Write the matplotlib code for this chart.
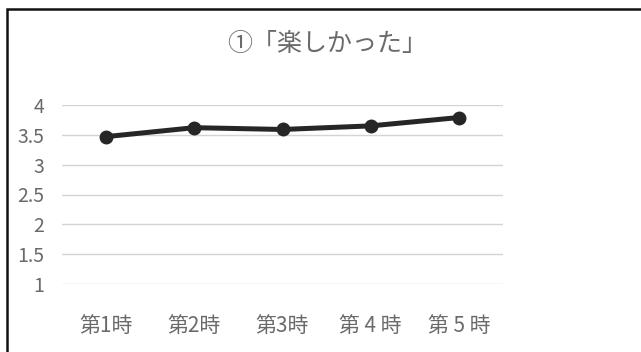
import matplotlib
matplotlib.use("Agg")
import matplotlib.pyplot as plt
from matplotlib.lines import Line2D

plt.rcParams['font.family'] = ['Noto Sans CJK JP', 'DejaVu Sans']

### chart data
title = "①「楽しかった」"
categories = ["第1時", "第2時", "第3時", "第 4 時", "第 5 時"]
values = [3.47, 3.62, 3.59, 3.65, 3.79]
y_ticks = [1, 1.5, 2, 2.5, 3, 3.5, 4]
y_labels = ["1", "1.5", "2", "2.5", "3", "3.5", "4"]

text_gray = "#6a6a6a"

fig = plt.figure(figsize=(6.41, 3.52), dpi=100)
ax = fig.add_axes([62 / 641, 68 / 352, 441 / 641, 179 / 352])

x = list(range(len(categories)))
ax.plot(x, values, color="#262626", lw=3.6, marker="o", markersize=9,
        markerfacecolor="#262626", markeredgecolor="#262626", zorder=3)

ax.set_xlim(-0.5, len(categories) - 0.5)
ax.set_ylim(1, 4)
ax.set_yticks(y_ticks)
ax.set_yticklabels(y_labels)
ax.set_xticks(x)
ax.set_xticklabels(categories)
ax.grid(axis="y", color="#d4d4d4", lw=1)
ax.set_axisbelow(True)
for s in ax.spines.values():
    s.set_visible(False)
ax.tick_params(axis="y", length=0, pad=13, labelsize=14, labelcolor=text_gray)
ax.tick_params(axis="x", length=0, pad=22, labelsize=15, labelcolor=text_gray)

fig.text(327 / 641, 1 - 44 / 352, title, ha="center", va="center",
         fontsize=18, color=text_gray)

### frame of the chart area (only left and top edges are inside the scan)
fx = 6.5 / 641
fy = 1 - 9 / 352
fig.add_artist(Line2D([fx, fx, 1.0], [0.0, fy, fy], transform=fig.transFigure,
                      color="#111111", lw=1.8, solid_joinstyle="miter"))

fig.savefig("out.png", dpi=100)
